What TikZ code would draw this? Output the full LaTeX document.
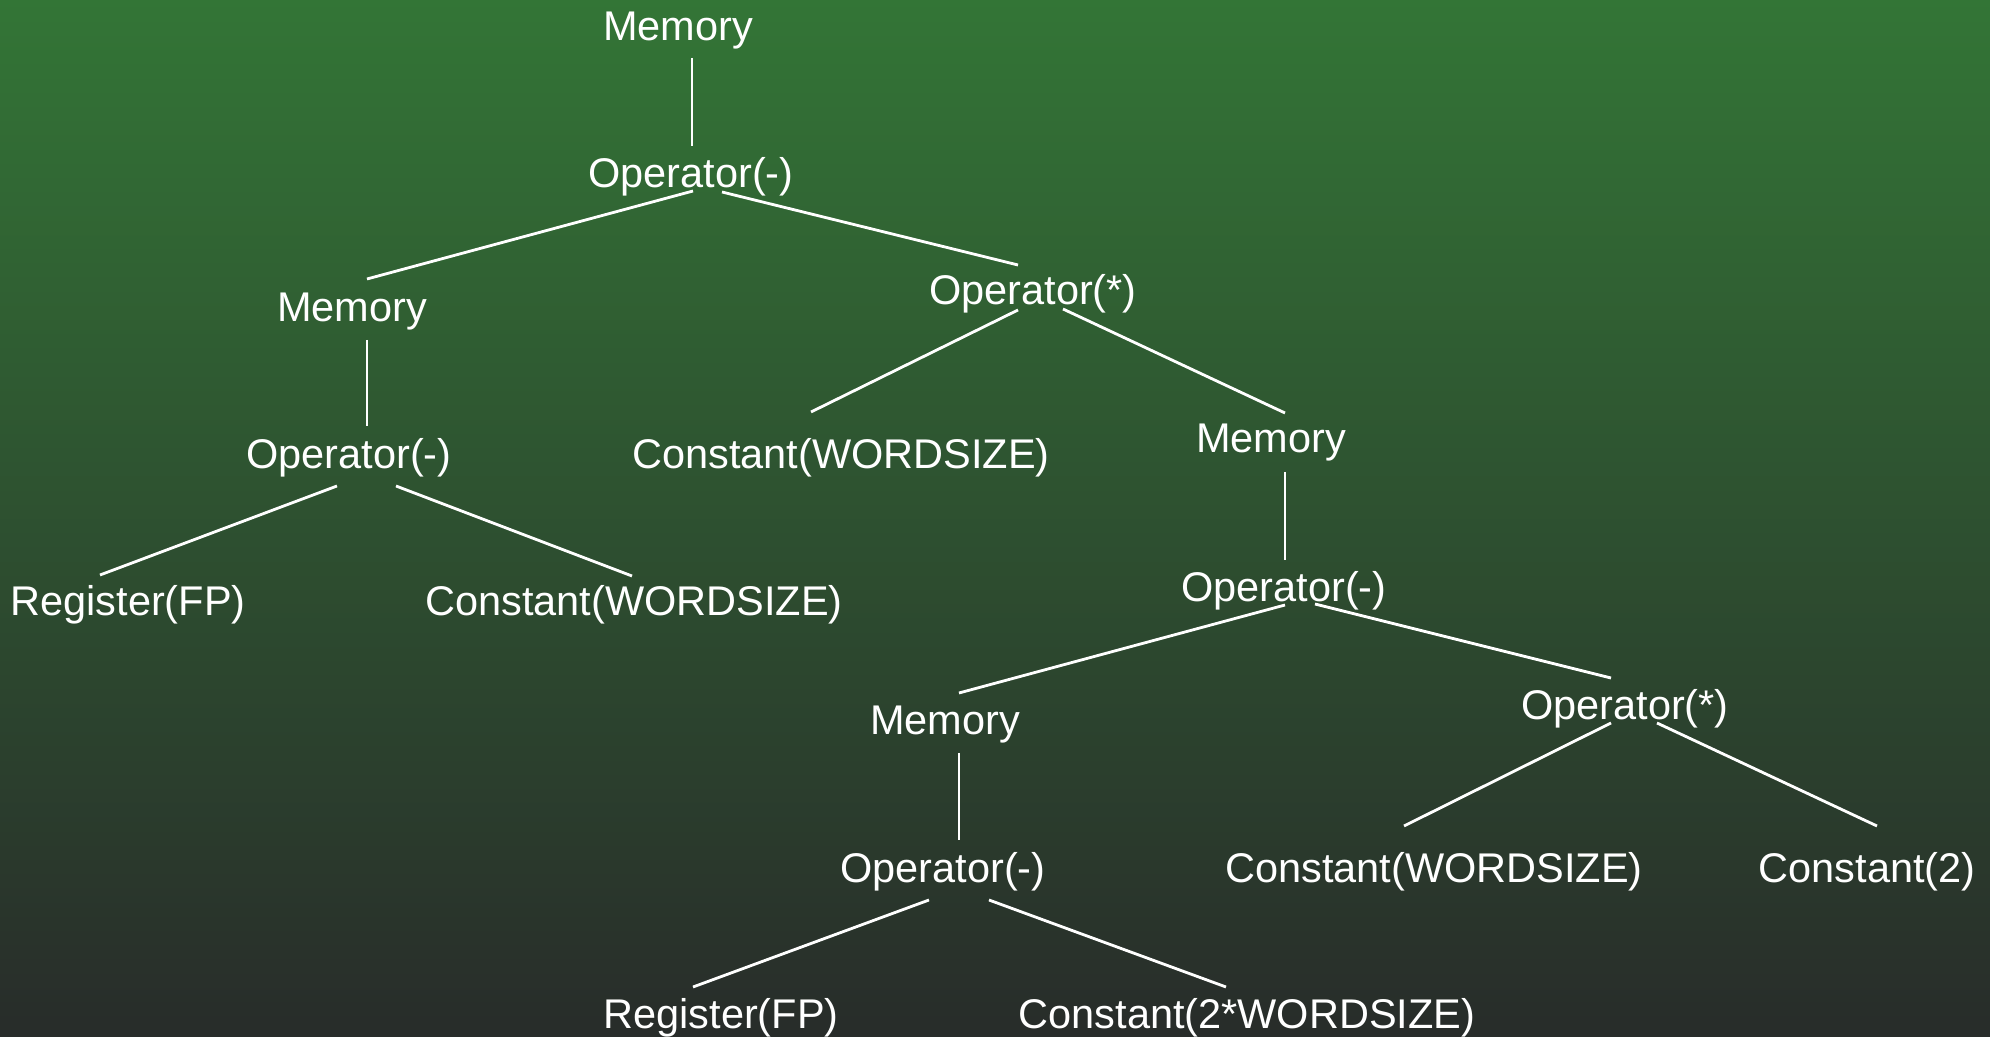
\documentclass[tikz,border=0pt]{standalone}
\usepackage{fontspec}
\setmainfont{Liberation Sans}
\usepackage{xcolor}
\usetikzlibrary{positioning}

\definecolor{bgtop}{RGB}{51,117,54}
\definecolor{bgbottom}{RGB}{40,44,42}

\begin{document}
\begin{tikzpicture}[x=0.01cm, y=-0.01cm,
    every node/.style={
    anchor=base,
    inner sep=0pt,
    text=white,
    font=\fontsize{11.8}{14}\selectfont
},
    branch/.style={white, line width=0.8pt}
]
    \shade[top color=bgtop, bottom color=bgbottom] (0, 0) rectangle (1990, 1037);
    \useasboundingbox (0, 0) rectangle (1990, 1037);

    \node (memory_top) [shift={(678, 41)}] {Memory};
    \node (operator_minus_a) [shift={(691, 188)}] {Operator(-)};
    \node (memory_a) [shift={(352, 322)}] {Memory};
    \node (operator_times_a) [shift={(1033, 305)}] {Operator(*)};
    \node (operator_minus_b) [shift={(349, 469)}] {Operator(-)};
    \node (constant_wordsize_a) [shift={(841, 469)}] {Constant(WORDSIZE)};
    \node (memory_b) [shift={(1271, 453)}] {Memory};
    \node (register_fp_a) [shift={(128, 616)}] {Register(FP)};
    \node (constant_wordsize_b) [shift={(634, 616)}] {Constant(WORDSIZE)};
    \node (operator_minus_c) [shift={(1284, 602)}] {Operator(-)};
    \node (memory_c) [shift={(945, 735)}] {Memory};
    \node (operator_times_b) [shift={(1625, 720)}] {Operator(*)};
    \node (operator_minus_d) [shift={(943, 883)}] {Operator(-)};
    \node (constant_wordsize_c) [shift={(1434, 883)}] {Constant(WORDSIZE)};
    \node (constant_two) [shift={(1867, 883)}] {Constant(2)};
    \node (register_fp_b) [shift={(721, 1029)}] {Register(FP)};
    \node (constant_two_wordsize) [shift={(1247, 1029)}] {Constant(2*WORDSIZE)};

    \draw[branch] ([shift={(14, 17)}]memory_top.base) to ([shift={(1, -42)}]operator_minus_a.base);
    \draw[branch] ([shift={(2, 3)}]operator_minus_a.base) to ([shift={(15, -43)}]memory_a.base);
    \draw[branch] ([shift={(31, 4)}]operator_minus_a.base) to ([shift={(-15, -40)}]operator_times_a.base);
    \draw[branch] ([shift={(15, 18)}]memory_a.base) to ([shift={(18, -43)}]operator_minus_b.base);
    \draw[branch] ([shift={(-15, 5)}]operator_times_a.base) to ([shift={(-30, -57)}]constant_wordsize_a.base);
    \draw[branch] ([shift={(30, 4)}]operator_times_a.base) to ([shift={(14, -40)}]memory_b.base);
    \draw[branch] ([shift={(-12, 17)}]operator_minus_b.base) to ([shift={(-28, -41)}]register_fp_a.base);
    \draw[branch] ([shift={(47, 17)}]operator_minus_b.base) to ([shift={(-2, -40)}]constant_wordsize_b.base);
    \draw[branch] ([shift={(14, 19)}]memory_b.base) to ([shift={(1, -42)}]operator_minus_c.base);
    \draw[branch] ([shift={(1, 3)}]operator_minus_c.base) to ([shift={(14, -42)}]memory_c.base);
    \draw[branch] ([shift={(31, 2)}]operator_minus_c.base) to ([shift={(-14, -42)}]operator_times_b.base);
    \draw[branch] ([shift={(14, 18)}]memory_c.base) to ([shift={(16, -43)}]operator_minus_d.base);
    \draw[branch] ([shift={(-14, 3)}]operator_times_b.base) to ([shift={(-30, -57)}]constant_wordsize_c.base);
    \draw[branch] ([shift={(32, 3)}]operator_times_b.base) to ([shift={(10, -57)}]constant_two.base);
    \draw[branch] ([shift={(-14, 17)}]operator_minus_d.base) to ([shift={(-28, -42)}]register_fp_b.base);
    \draw[branch] ([shift={(46, 17)}]operator_minus_d.base) to ([shift={(-21, -42)}]constant_two_wordsize.base);
\end{tikzpicture}
\end{document}
